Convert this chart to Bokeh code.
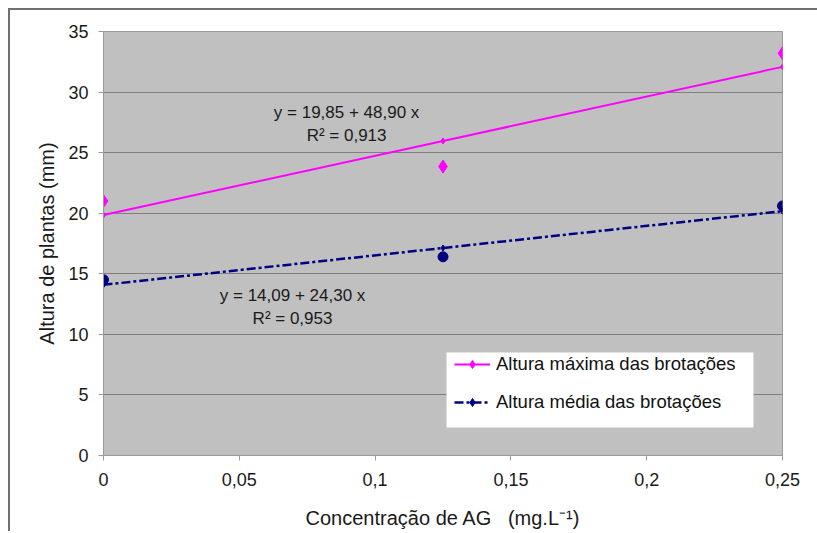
from bokeh.plotting import figure
from bokeh.models import Legend, LegendItem, Label, FixedTicker, Range1d, BoxAnnotation
from bokeh.embed import file_html
from bokeh.resources import INLINE

# ---- data ----
conc = [0.0, 0.125, 0.25]
alt_max = [21.0, 23.85, 33.2]
alt_media = [14.5, 16.4, 20.6]
fit_max = [19.85, 25.96, 32.08]
fit_media = [14.09, 17.13, 20.17]
x_ticks = [0, 0.05, 0.1, 0.15, 0.2, 0.25]
x_tick_labels = ["0", "0,05", "0,1", "0,15", "0,2", "0,25"]
y_ticks = [0, 5, 10, 15, 20, 25, 30, 35]
eq_max = ["y = 19,85 + 48,90 x", "R² = 0,913"]
eq_media = ["y = 14,09 + 24,30 x", "R² = 0,953"]
series_names = ["Altura máxima das brotações", "Altura média das brotações"]

FONT = "Liberation Sans"
MAG = "#FF00FF"
NAVY = "#000080"

p = figure(output_backend="svg", toolbar_location=None,
           frame_width=679, frame_height=424,
           min_border_left=93, min_border_right=35,
           min_border_top=21, min_border_bottom=76,
           x_range=Range1d(0, 0.25), y_range=Range1d(0, 35),
           background_fill_color="#C0C0C0", border_fill_color="white")
p.styles = {"margin-left": "8px", "margin-top": "8px",
            "border-left": "2px solid #707070", "border-top": "2px solid #707070"}

p.outline_line_color = "#9A9A9A"
p.xgrid.visible = False
p.ygrid.grid_line_color = "#808080"
p.ygrid.grid_line_width = 1

for ax in (p.xaxis[0], p.yaxis[0]):
    ax.axis_line_color = "#9A9A9A"
    ax.major_tick_line_color = "#9A9A9A"
    ax.minor_tick_line_color = None
    ax.major_tick_in = 0
    ax.major_tick_out = 5
    ax.major_label_text_font = FONT
    ax.major_label_text_font_size = "18px"
    ax.major_label_text_color = "#1a1a1a"
    ax.axis_label_text_font = FONT
    ax.axis_label_text_font_size = "20px"
    ax.axis_label_text_font_style = "normal"
    ax.axis_label_text_color = "#1a1a1a"

p.xaxis.ticker = FixedTicker(ticks=x_ticks)
p.xaxis.major_label_overrides = {t: l for t, l in zip(x_ticks, x_tick_labels)}
p.yaxis.ticker = FixedTicker(ticks=y_ticks)
p.xaxis.major_label_standoff = 12
p.yaxis.major_label_standoff = 10
p.xaxis.axis_label = "Concentração de AG\u00a0\u00a0\u00a0(mg.L⁻¹)"
p.yaxis.axis_label = "Altura de plantas (mm)"
p.xaxis.axis_label_standoff = 18
p.yaxis.axis_label_standoff = 7

# trend lines with small markers
l1 = p.line(conc, fit_max, line_color=MAG, line_width=2)
s1 = p.scatter(conc, fit_max, marker="diamond", size=6, color=MAG)
l2 = p.line(conc, fit_media, line_color=NAVY, line_width=2.5, line_dash="9 3 3 3")
s2 = p.scatter(conc, fit_media, marker="diamond", size=6, color=NAVY)

# observed data
p.scatter(conc, alt_max, marker="diamond", size=13, color=MAG)
p.scatter(conc, alt_media, marker="circle", size=10, color=NAVY)

# equations
def add_eq(lines, x, y0):
    for i, t in enumerate(lines):
        p.add_layout(Label(x=x, y=y0 - i * 1.85, text=t, text_font=FONT,
                           text_font_size="17px", text_color="#1a1a1a",
                           text_align="center", text_baseline="middle"))

add_eq(eq_max, 0.0895, 28.3)
add_eq(eq_media, 0.0696, 13.2)

# legend box (white, no border) drawn behind a transparent legend
p.add_layout(BoxAnnotation(left=0.1263, right=0.2393, bottom=2.31, top=8.50,
                           fill_color="white", fill_alpha=1, line_color=None))

legend = Legend(items=[LegendItem(label=series_names[0], renderers=[l1, s1]),
                       LegendItem(label=series_names[1], renderers=[l2, s2])],
                location=(351, 42), background_fill_alpha=0, border_line_color=None,
                label_text_font=FONT, label_text_font_size="18.5px",
                label_text_color="#111111", glyph_width=36, glyph_height=20,
                label_height=20, label_standoff=6,
                padding=16, spacing=16, margin=0)
p.add_layout(legend, "center")

open("out.html", "w").write(file_html(p, INLINE))
